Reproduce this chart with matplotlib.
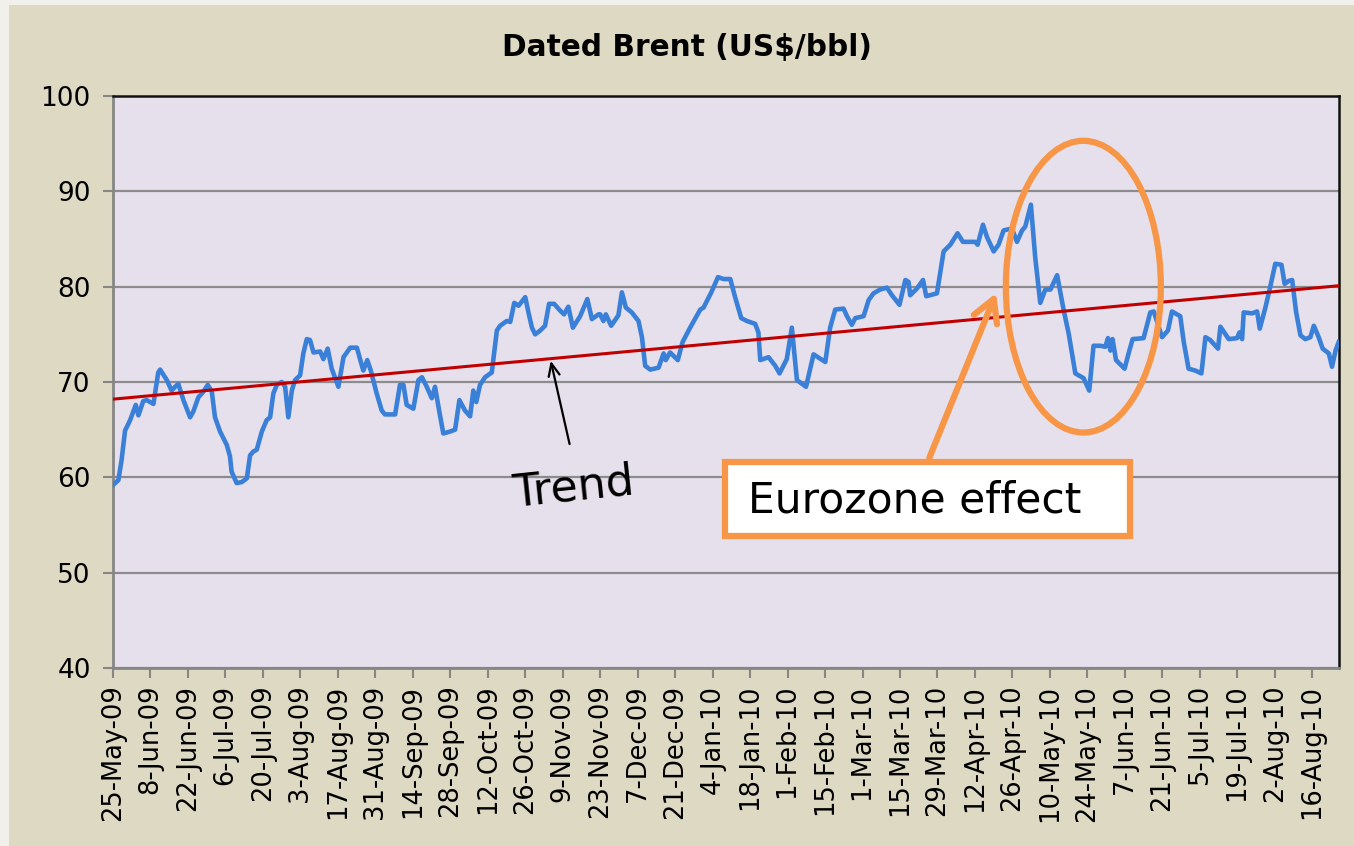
import numpy as np
import matplotlib.pyplot as plt
from matplotlib.patches import Ellipse, Rectangle

days = [0, 2.0, 3.2, 4.5, 6.4, 8.5, 9.5, 11.3, 12.6, 15.1,
        16.9, 17.6, 20.1, 21.9, 23.2, 24.4, 26.3, 28.8, 30.0, 31.9,
        33.8, 35.4, 36.9, 38.1, 40.0, 42.5, 43.7, 44.3, 46.2, 48.1,
        50.0, 51.2, 52.4, 53.7, 55.6, 57.4, 58.7, 59.9, 61.2, 63.0,
        64.3, 65.5, 66.8, 68.0, 69.9, 71.1, 72.4, 73.6, 74.9, 77.4,
        78.6, 80.2, 81.7, 84.2, 86.1,
        88.6, 91.1, 92.3, 93.5, 95.0, 96.3, 98.5, 100.4, 101.6, 105.4,
        107.2, 108.5, 109.7, 112.2, 114.1, 115.4, 117.2, 119.1, 120.3, 121.9,
        123.4, 125.9, 127.8, 129.4, 131.5, 133.4, 134.6, 135.7, 137.1, 139.0,
        141.5, 143.4, 144.6, 147.1, 148.4, 149.9, 151.5, 154.0, 155.2, 156.5,
        157.7, 159.6, 161.4, 162.9, 164.8, 167.0, 168.5, 170.1, 171.8, 174.5,
        177.2, 178.9, 181.4,
        182.0, 183.2, 184.1, 186.1, 188.8, 190.1, 191.6, 193.8, 196.3, 197.6,
        198.8, 200.7, 203.8, 205.7, 206.5, 208.1, 211.0, 212.8, 215.6, 219.4,
        220.6, 223.5, 226.0, 228.1, 230.6, 232.4, 234.7, 236.8, 239.9, 241.1,
        241.8, 244.9, 247.4, 249.0, 251.7, 253.6, 255.5, 258.9, 261.7, 266.1,
        267.9, 269.8, 272.9,
        274.2, 276.0, 277.3, 280.4, 282.3, 284.1, 286.6, 289.1, 291.0, 293.8,
        296.0, 297.2, 297.8, 300.3, 302.6, 303.8, 307.8, 310.3, 312.8, 315.5,
        317.5, 322.1, 323.0, 325.0, 326.5, 329.0, 330.8, 332.7, 335.8, 337.7,
        339.6, 340.8, 342.9, 344.5, 346.4, 348.3, 350.2, 352.7, 355.1, 357.0,
        359.5, 362.6,
        364.7, 366.3, 368.8, 370.7, 371.7, 372.6, 373.4, 374.7, 377.9, 379.4,
        380.9, 385.0, 387.5, 388.8, 391.9, 394.1, 395.6, 398.7, 400.0, 401.8,
        404.3, 406.6, 408.1, 409.9, 412.8, 413.7, 416.8, 419.9, 420.8, 421.8,
        422.4, 425.5, 427.4, 428.4, 430.5, 432.4, 434.2, 436.5, 437.7, 439.2,
        440.5, 442.0, 443.6, 445.4, 447.3, 448.6, 450.4, 451.9, 454.2, 455.4,
        456.7, 457.9]

price = [59.2, 59.7, 61.8, 64.9, 66.0, 67.6, 66.5, 68.0, 68.1, 67.7,
         71.0, 71.3, 70.2, 69.1, 69.5, 69.8, 68.1, 66.3, 66.9, 68.4,
         69.0, 69.7, 69.0, 66.3, 64.8, 63.4, 62.2, 60.6, 59.4, 59.5,
         59.9, 62.3, 62.7, 62.9, 64.8, 66.0, 66.3, 68.8, 69.7, 70.0,
         69.5, 66.3, 69.1, 70.2, 70.7, 73.0, 74.5, 74.4, 73.1, 73.2,
         72.4, 73.5, 71.4, 69.5, 72.6,
         73.6, 73.6, 72.4, 71.2, 72.3, 71.2, 68.8, 67.0, 66.6, 66.6,
         69.7, 69.7, 67.6, 67.2, 70.2, 70.5, 69.5, 68.3, 69.5, 66.9,
         64.6, 64.8, 65.0, 68.1, 67.0, 66.4, 69.1, 67.9, 69.7, 70.5,
         71.0, 75.4, 75.9, 76.4, 76.3, 78.3, 78.0, 78.9, 77.3, 75.7,
         75.0, 75.4, 75.9, 78.2, 78.2, 77.5, 77.1, 77.9, 75.7, 76.9,
         78.7, 76.6, 77.1,
         77.1, 76.4, 77.1, 75.9, 77.0, 79.4, 77.8, 77.3, 76.4, 74.7,
         71.7, 71.3, 71.5, 73.0, 72.3, 73.1, 72.3, 74.2, 75.7, 77.6,
         77.8, 79.4, 81.0, 80.8, 80.8, 78.9, 76.7, 76.4, 76.1, 75.2,
         72.3, 72.6, 71.7, 70.9, 72.4, 75.7, 70.2, 69.5, 72.9, 72.1,
         75.7, 77.6, 77.7,
         76.9, 76.0, 76.7, 76.9, 78.6, 79.3, 79.7, 79.9, 79.1, 78.1,
         80.7, 80.5, 79.1, 79.8, 80.7, 79.0, 79.3, 83.7, 84.4, 85.6,
         84.7, 84.7, 84.4, 86.5, 85.2, 83.7, 84.4, 85.9, 86.1, 84.7,
         85.9, 86.3, 88.6, 83.1, 78.3, 79.7, 79.7, 81.2, 77.6, 75.1,
         70.9, 70.4,
         69.1, 73.8, 73.8, 73.7, 74.6, 73.3, 74.5, 72.3, 71.4, 73.0,
         74.5, 74.6, 77.3, 77.4, 74.7, 75.4, 77.4, 76.9, 74.2, 71.4,
         71.2, 70.9, 74.7, 74.4, 73.5, 75.8, 74.5, 74.6, 75.2, 74.5,
         77.3, 77.2, 77.4, 75.6, 77.8, 80.1, 82.4, 82.3, 80.3, 80.6,
         80.7, 77.3, 74.9, 74.5, 74.7, 75.9, 74.7, 73.5, 73.0, 71.6,
         73.3, 74.2]

trend_days = [0, 458]
trend_price = [68.2, 80.1]

tick_days = list(range(0, 449, 14))
tick_labels = ['25-May-09', '8-Jun-09', '22-Jun-09', '6-Jul-09', '20-Jul-09',
               '3-Aug-09', '17-Aug-09', '31-Aug-09', '14-Sep-09', '28-Sep-09',
               '12-Oct-09', '26-Oct-09', '9-Nov-09', '23-Nov-09', '7-Dec-09',
               '21-Dec-09', '4-Jan-10', '18-Jan-10', '1-Feb-10', '15-Feb-10',
               '1-Mar-10', '15-Mar-10', '29-Mar-10', '12-Apr-10', '26-Apr-10',
               '10-May-10', '24-May-10', '7-Jun-10', '21-Jun-10', '5-Jul-10',
               '19-Jul-10', '2-Aug-10', '16-Aug-10']

orange = '#F79646'

fig = plt.figure(figsize=(13.54, 8.46), dpi=100, facecolor='#DDD9C3')
# pale strips along the left and top edges
fig.patches.append(Rectangle((0, 0), 9 / 1354, 1, transform=fig.transFigure,
                             facecolor='#F1F0EA', edgecolor='none', zorder=-5))
fig.patches.append(Rectangle((0, 1 - 5 / 846), 1, 5 / 846, transform=fig.transFigure,
                             facecolor='#F1F0EA', edgecolor='none', zorder=-5))

ax = fig.add_axes([113 / 1354, 1 - 668 / 846, (1339 - 113) / 1354, (668 - 96) / 846])
ax.set_facecolor('#E5E0EC')

ax.plot(days, price, color='#3A80D8', lw=3.3, solid_joinstyle='round', zorder=3)
ax.plot(trend_days, trend_price, color='#C00000', lw=2.2, zorder=4)

ax.set_xlim(0, 458)
ax.set_ylim(40, 100)
ax.set_yticks(range(40, 101, 10))
ax.yaxis.grid(True, color='#8C8C8C', lw=1.6)
ax.set_axisbelow(True)
ax.set_xticks(tick_days)
ax.set_xticklabels(tick_labels, rotation=90)
ax.tick_params(axis='y', labelsize=19, length=7, width=1.5, color='#868686', pad=9)
ax.tick_params(axis='x', labelsize=18.5, length=7, width=1.5, color='#868686', pad=5)
for s in ['left', 'bottom']:
    ax.spines[s].set_color('#868686')
    ax.spines[s].set_linewidth(2)
for s in ['top', 'right']:
    ax.spines[s].set_color('#111111')
    ax.spines[s].set_linewidth(1.8)

fig.text(0.507, 0.944, 'Dated Brent (US$/bbl)', ha='center', va='center',
         fontsize=21.3, fontweight='bold')

# Trend annotation
ax.annotate('', xy=(163.3, 72.5), xytext=(170.8, 63.2),
            arrowprops=dict(arrowstyle='->,head_length=0.9,head_width=0.4', color='black', lw=1.6))
ax.text(171.9, 58.9, 'Trend', fontsize=32, ha='center', va='center', rotation=6)

# Eurozone annotation
ax.add_patch(Ellipse((362.5, 80.0), 57.9, 30.6, fill=False, edgecolor=orange,
                     lw=4.5, zorder=5, clip_on=False))
ax.add_patch(Rectangle((228.7, 53.8), 151.3, 7.8, facecolor='white', edgecolor=orange,
                       lw=4.5, zorder=5))
ax.text(237.3, 57.6, 'Eurozone effect', fontsize=30.5, ha='left', va='center', zorder=6)
ax.annotate('', xy=(330.3, 79.6), xytext=(304.6, 61.8),
            arrowprops=dict(arrowstyle='->,head_length=1.6,head_width=0.9', color=orange, lw=4.5),
            zorder=6)

fig.savefig('out.png', dpi=100, facecolor=fig.get_facecolor())
